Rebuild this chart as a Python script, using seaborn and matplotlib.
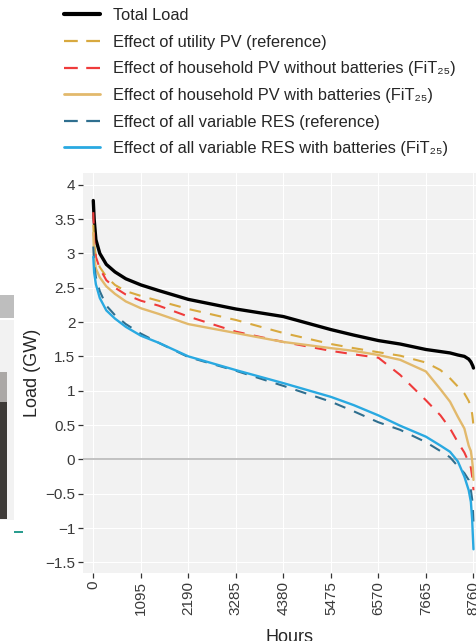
import seaborn as sns
import pandas as pd
import matplotlib
matplotlib.use("Agg")
import matplotlib.pyplot as plt
from matplotlib.patches import Rectangle
from matplotlib.lines import Line2D

# --- data (load duration curves, GW) ---
hours = [0, 20, 60, 150, 300, 500, 750, 1100, 1500, 2190, 3285, 4380, 5475,
         6000, 6570, 7070, 7665, 8000, 8220, 8400, 8550, 8650, 8700, 8730,
         8745, 8760]

total_load = [3.77, 3.50, 3.20, 3.00, 2.84, 2.73, 2.63, 2.54, 2.46, 2.33, 2.19,
              2.08, 1.89, 1.81, 1.73, 1.68, 1.60, 1.57, 1.55, 1.52, 1.50, 1.46,
              1.42, 1.38, 1.36, 1.33]
utility_pv = [3.42, 3.15, 2.95, 2.80, 2.66, 2.54, 2.45, 2.38, 2.31, 2.19, 2.03,
              1.84, 1.68, 1.62, 1.56, 1.51, 1.41, 1.30, 1.18, 1.06, 0.96, 0.85,
              0.76, 0.66, 0.58, 0.48]
household_pv = [3.60, 3.20, 2.95, 2.78, 2.61, 2.50, 2.40, 2.31, 2.24, 2.08, 1.86,
                1.71, 1.58, 1.53, 1.48, 1.23, 0.86, 0.64, 0.45, 0.25, 0.10, -0.04,
                -0.12, -0.25, -0.33, -0.45]
household_pv_batt = [3.30, 2.95, 2.78, 2.65, 2.52, 2.41, 2.30, 2.20, 2.12, 1.97,
                     1.84, 1.71, 1.62, 1.58, 1.52, 1.45, 1.28, 1.02, 0.84, 0.62,
                     0.45, 0.20, 0.12, -0.02, -0.12, -0.30]
all_res = [3.10, 2.85, 2.65, 2.45, 2.24, 2.10, 1.97, 1.83, 1.70, 1.49, 1.29,
           1.07, 0.84, 0.70, 0.54, 0.43, 0.25, 0.12, 0.03, -0.10, -0.20, -0.30,
           -0.45, -0.58, -0.69, -0.93]
all_res_batt = [2.95, 2.72, 2.55, 2.35, 2.17, 2.05, 1.93, 1.80, 1.70, 1.50, 1.30,
                1.11, 0.91, 0.79, 0.64, 0.49, 0.33, 0.20, 0.11, -0.03, -0.25,
                -0.45, -0.62, -0.88, -1.10, -1.31]

series_labels = [
    "Total Load",
    "Effect of utility PV (reference)",
    "Effect of household PV without batteries (FiT\u2082\u2085)",
    "Effect of household PV with batteries (FiT\u2082\u2085)",
    "Effect of all variable RES (reference)",
    "Effect of all variable RES with batteries (FiT\u2082\u2085)",
]
series_values = [total_load, utility_pv, household_pv, household_pv_batt,
                 all_res, all_res_batt]

xticks = [0, 1095, 2190, 3285, 4380, 5475, 6570, 7665, 8760]
yticks = [4, 3.5, 3, 2.5, 2, 1.5, 1, 0.5, 0, -0.5, -1, -1.5]
ytick_labels = ["4", "3.5", "3", "2.5", "2", "1.5", "1", "0.5", "0",
                "\u22120.5", "\u22121", "\u22121.5"]

# --- styling ---
colors = ["black", "#D8A93F", "#EF3B3B", "#E2B96C", "#2F6F8F", "#29A9E1"]
dash = (0, (5.5, 4.5))
styles = ["-", dash, dash, "-", dash, "-"]
widths = [2.4, 1.5, 1.5, 1.7, 1.5, 1.7]

sns.set_style("darkgrid", {"axes.facecolor": "#F2F2F2", "grid.color": "white",
                           "grid.linewidth": 1.5})
plt.rcParams["font.family"] = ["Liberation Sans", "DejaVu Sans"]
plt.rcParams["axes.unicode_minus"] = True

fig = plt.figure(figsize=(4.77, 6.41), dpi=100)
ax = fig.add_axes([0.174, 0.1056, 0.864, 0.6244])

ax.axhline(0, color="#BDBDBD", linewidth=1.3, zorder=1)

df = pd.DataFrame({"hours": hours})
for lab, vals, c, ls, lw in zip(series_labels, series_values, colors, styles, widths):
    df[lab] = vals
    sns.lineplot(data=df, x="hours", y=lab, ax=ax, color=c, linestyle=ls,
                 linewidth=lw, sort=False, estimator=None, label=lab, zorder=3)

ax.get_legend().remove()

ax.set_xlim(-237, 9259)
ax.set_ylim(-1.66, 4.17)
ax.set_xticks(xticks)
ax.set_xticklabels([str(t) for t in xticks], rotation=90)
ax.set_yticks(yticks)
ax.set_yticklabels(ytick_labels)
ax.tick_params(axis="both", bottom=True, left=True, length=3.5, width=0.9,
               color="#333333", labelsize=11, labelcolor="#3A3A3A", pad=2)
ax.set_xlabel("Hours", fontsize=13, labelpad=10)
ax.set_ylabel("Load (GW)", fontsize=13, labelpad=3)
for s in ax.spines.values():
    s.set_visible(False)

# legend above the panel
leg_styles = ["-", (0, (6.2, 3.8)), (0, (6.2, 3.8)), "-", (0, (6.2, 3.8)), "-"]
leg_widths = [3.0, 1.6, 1.6, 2.0, 1.6, 2.0]
handles = [Line2D([], [], color=c, linestyle=ls, linewidth=lw)
           for c, ls, lw in zip(colors, leg_styles, leg_widths)]
fig.legend(handles, series_labels, loc="upper left",
           bbox_to_anchor=(64 / 477, 1 - 8 / 641), frameon=False,
           fontsize=11.8, handlelength=2.2, handletextpad=0.8,
           labelspacing=0.71, borderpad=0, borderaxespad=0)

# fragments of the neighbouring panel cut off at the left edge
frag = [
    ((0, 295), 14, 23, "#BEBEBE"),
    ((0, 320), 14, 200, "#F2F2F2"),
    ((0, 372), 7, 30, "#ABA8A6"),
    ((0, 402), 7, 117, "#3D3A37"),
    ((14, 531), 9, 1.5, "#2A9D8F"),
]
for (x0, y0), w, h, c in frag:
    fig.patches.append(Rectangle((x0 / 477, 1 - (y0 + h) / 641), w / 477, h / 641,
                                 transform=fig.transFigure, facecolor=c,
                                 edgecolor="none"))

fig.savefig("out.png", dpi=100)
